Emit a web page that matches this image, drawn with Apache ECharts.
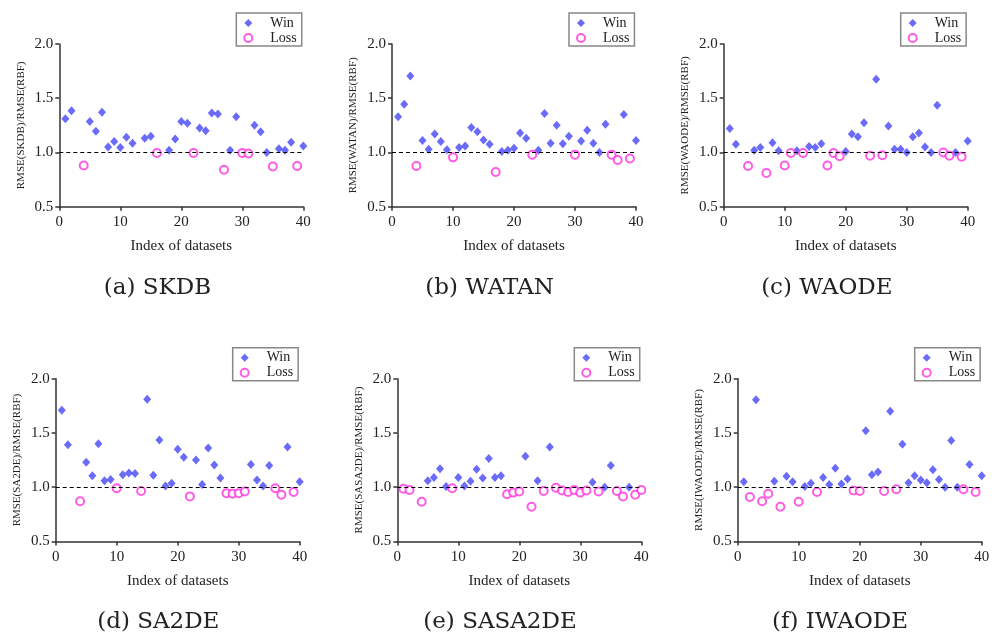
<!DOCTYPE html>
<html>
<head>
<meta charset="utf-8">
<script src="https://cdn.jsdelivr.net/npm/echarts@6/dist/echarts.min.js"></script>
<style>
  html, body { margin: 0; padding: 0; background: #fff; }
  #chart { width: 996px; height: 638px; }
</style>
</head>
<body>
<div id="chart"></div>
<script>
// ---- data ----
const xTicks = [0, 10, 20, 30, 40];
const yTicks = [0.5, 1.0, 1.5, 2.0];

const skdbWinIdx = [1, 2, 5, 6, 7, 8, 9, 10, 11, 12, 14, 15, 18, 19, 20, 21, 23, 24, 25, 26, 28, 29, 32, 33, 34, 36, 37, 38, 40];
const skdbWinVal = [1.31, 1.385, 1.285, 1.195, 1.37, 1.05, 1.10, 1.045, 1.14, 1.085, 1.13, 1.15, 1.02, 1.125, 1.285, 1.27, 1.225, 1.20, 1.365, 1.355, 1.02, 1.33, 1.25, 1.19, 1.0, 1.035, 1.02, 1.095, 1.06];
const skdbLossIdx = [4, 16, 22, 27, 30, 31, 35, 39];
const skdbLossVal = [0.88, 0.995, 0.995, 0.84, 0.995, 0.99, 0.87, 0.875];

const watanWinIdx = [1, 2, 3, 5, 6, 7, 8, 9, 11, 12, 13, 14, 15, 16, 18, 19, 20, 21, 22, 24, 25, 26, 27, 28, 29, 31, 32, 33, 34, 35, 38, 40];
const watanWinVal = [1.33, 1.445, 1.705, 1.11, 1.03, 1.17, 1.10, 1.025, 1.045, 1.06, 1.23, 1.19, 1.115, 1.075, 1.01, 1.02, 1.04, 1.18, 1.13, 1.02, 1.36, 1.085, 1.25, 1.08, 1.15, 1.105, 1.205, 1.085, 1.0, 1.26, 1.35, 1.11];
const watanLossIdx = [4, 10, 17, 23, 30, 36, 37, 39];
const watanLossVal = [0.875, 0.955, 0.82, 0.98, 0.98, 0.98, 0.93, 0.945];

const waodeWinIdx = [1, 2, 5, 6, 8, 9, 12, 14, 15, 16, 20, 21, 22, 23, 25, 27, 28, 29, 30, 31, 32, 33, 34, 35, 38, 40];
const waodeWinVal = [1.22, 1.075, 1.02, 1.045, 1.09, 1.015, 1.015, 1.055, 1.045, 1.08, 1.01, 1.17, 1.145, 1.275, 1.675, 1.245, 1.03, 1.03, 1.0, 1.145, 1.18, 1.05, 1.0, 1.435, 1.0, 1.105];
const waodeLossIdx = [4, 7, 10, 11, 13, 17, 18, 19, 24, 26, 36, 37, 39];
const waodeLossVal = [0.875, 0.81, 0.88, 0.995, 0.995, 0.88, 0.995, 0.965, 0.97, 0.975, 1.0, 0.97, 0.96];

const sa2deWinIdx = [1, 2, 5, 6, 7, 8, 9, 11, 12, 13, 15, 16, 17, 18, 19, 20, 21, 23, 24, 25, 26, 27, 32, 33, 34, 35, 38, 40];
const sa2deWinVal = [1.71, 1.39, 1.23, 1.105, 1.40, 1.06, 1.07, 1.115, 1.13, 1.125, 1.81, 1.11, 1.435, 1.01, 1.035, 1.35, 1.275, 1.25, 1.025, 1.36, 1.205, 1.085, 1.21, 1.065, 1.01, 1.20, 1.37, 1.05];
const sa2deLossIdx = [4, 10, 14, 22, 28, 29, 30, 31, 36, 37, 39];
const sa2deLossVal = [0.87, 0.99, 0.965, 0.915, 0.945, 0.94, 0.945, 0.96, 0.99, 0.93, 0.955];

const sasa2deWinIdx = [5, 6, 7, 8, 10, 11, 12, 13, 14, 15, 16, 17, 21, 23, 25, 32, 34, 35, 38];
const sasa2deWinVal = [1.06, 1.09, 1.17, 1.005, 1.09, 1.01, 1.055, 1.165, 1.085, 1.265, 1.09, 1.105, 1.285, 1.06, 1.37, 1.045, 1.0, 1.20, 1.0];
const sasa2deLossIdx = [1, 2, 4, 9, 18, 19, 20, 22, 24, 26, 27, 28, 29, 30, 31, 33, 36, 37, 39, 40];
const sasa2deLossVal = [0.985, 0.975, 0.865, 0.99, 0.935, 0.95, 0.96, 0.82, 0.965, 0.995, 0.97, 0.955, 0.975, 0.95, 0.97, 0.96, 0.965, 0.915, 0.93, 0.975];

const iwaodeWinIdx = [1, 3, 6, 8, 9, 11, 12, 14, 15, 16, 17, 18, 21, 22, 23, 25, 27, 28, 29, 30, 31, 32, 33, 34, 35, 36, 38, 40];
const iwaodeWinVal = [1.05, 1.805, 1.055, 1.10, 1.05, 1.005, 1.035, 1.09, 1.025, 1.175, 1.03, 1.075, 1.52, 1.115, 1.14, 1.70, 1.395, 1.04, 1.105, 1.065, 1.04, 1.16, 1.07, 1.0, 1.43, 1.0, 1.21, 1.105];
const iwaodeLossIdx = [2, 4, 5, 7, 10, 13, 19, 20, 24, 26, 37, 39];
const iwaodeLossVal = [0.91, 0.87, 0.94, 0.82, 0.865, 0.955, 0.97, 0.965, 0.965, 0.98, 0.98, 0.955];

const methods = ['SKDB', 'WATAN', 'WAODE', 'SA2DE', 'SASA2DE', 'IWAODE'];
const captions = ['(a) SKDB', '(b) WATAN', '(c) WAODE', '(d) SA2DE', '(e) SASA2DE', '(f) IWAODE'];
const panelData = [
  [skdbWinIdx, skdbWinVal, skdbLossIdx, skdbLossVal],
  [watanWinIdx, watanWinVal, watanLossIdx, watanLossVal],
  [waodeWinIdx, waodeWinVal, waodeLossIdx, waodeLossVal],
  [sa2deWinIdx, sa2deWinVal, sa2deLossIdx, sa2deLossVal],
  [sasa2deWinIdx, sasa2deWinVal, sasa2deLossIdx, sasa2deLossVal],
  [iwaodeWinIdx, iwaodeWinVal, iwaodeLossIdx, iwaodeLossVal]
];

// ---- layout ----
const PW = 244, PH = 162.7;
const layout = [
  { left: 59.3, top: 44, cx: 157.5, cy: 288 },
  { left: 392, top: 44, cx: 489.6, cy: 288 },
  { left: 723.7, top: 44, cx: 826.8, cy: 288 },
  { left: 55.7, top: 378.7, cx: 158.3, cy: 621.7 },
  { left: 397.3, top: 378.7, cx: 500, cy: 621.7 },
  { left: 737.7, top: 378.7, cx: 840, cy: 621.7 }
];

const SERIF = '"Liberation Serif", "Times New Roman", serif';
const AXIS_COLOR = '#333';
const WIN_COLOR = '#4646f8';
const LOSS_COLOR = '#ff33dd';

const zip = (xs, ys) => xs.map((x, i) => [x, ys[i]]);

const grid = [], xAxis = [], yAxis = [], series = [], legend = [], graphic = [];

layout.forEach((p, i) => {
  const [wIdx, wVal, lIdx, lVal] = panelData[i];
  grid.push({ left: p.left, top: p.top, width: PW, height: PH });

  xAxis.push({
    gridIndex: i,
    type: 'value',
    min: xTicks[0],
    max: xTicks[xTicks.length - 1],
    interval: 10,
    name: 'Index of datasets',
    nameLocation: 'middle',
    nameGap: 32,
    nameTextStyle: { fontFamily: SERIF, fontSize: 15, color: '#222' },
    axisLine: { show: true, lineStyle: { color: AXIS_COLOR, width: 1.5 } },
    axisTick: { show: true, length: 4, lineStyle: { color: AXIS_COLOR, width: 1.5 } },
    axisLabel: { fontFamily: SERIF, fontSize: 15, color: '#222', margin: 8 },
    splitLine: { show: false }
  });

  yAxis.push({
    gridIndex: i,
    type: 'value',
    min: yTicks[0],
    max: yTicks[yTicks.length - 1],
    interval: 0.5,
    name: 'RMSE(' + methods[i] + ')/RMSE(RBF)',
    nameLocation: 'middle',
    nameGap: 33,
    nameRotate: 90,
    nameTextStyle: { fontFamily: SERIF, fontSize: 11, color: '#222' },
    axisLine: { show: true, lineStyle: { color: AXIS_COLOR, width: 1.5 } },
    axisTick: { show: true, length: 4, lineStyle: { color: AXIS_COLOR, width: 1.5 } },
    axisLabel: {
      fontFamily: SERIF, fontSize: 15, color: '#222', margin: 6,
      formatter: v => v.toFixed(1)
    },
    splitLine: { show: false }
  });

  series.push({
    name: 'Win',
    type: 'scatter',
    xAxisIndex: i,
    yAxisIndex: i,
    symbol: 'diamond',
    symbolSize: [8, 9],
    itemStyle: { color: WIN_COLOR },
    data: zip(wIdx, wVal),
    z: 3,
    markLine: {
      silent: true,
      symbol: ['none', 'none'],
      label: { show: false },
      lineStyle: { type: [4, 3], color: '#000', width: 1.2 },
      data: [{ yAxis: 1.0 }]
    }
  });
  series.push({
    name: 'Loss',
    type: 'scatter',
    xAxisIndex: i,
    yAxisIndex: i,
    symbol: 'circle',
    symbolSize: 8,
    itemStyle: { color: '#fff', borderColor: LOSS_COLOR, borderWidth: 2 },
    data: zip(lIdx, lVal),
    z: 3
  });

  legend.push({
    data: ['Win', 'Loss'],
    orient: 'vertical',
    left: p.left + PW - 67,
    top: p.top - 31,
    padding: [3, 5, 1, 7],
    itemGap: 1,
    itemWidth: 8,
    itemHeight: 8,
    borderColor: '#888',
    borderWidth: 1.5,
    selectedMode: false,
    textStyle: { fontFamily: SERIF, fontSize: 14, color: '#222', lineHeight: 14, padding: [0, 0, 0, 13] }
  });

  graphic.push({
    type: 'text',
    x: p.cx,
    y: p.cy,
    style: {
      text: captions[i],
      font: '23px "DejaVu Serif", serif',
      fill: '#222',
      textAlign: 'center',
      textVerticalAlign: 'middle'
    }
  });
});

const chart = echarts.init(document.getElementById('chart'));
chart.setOption({
  animation: false,
  backgroundColor: '#fff',
  grid, xAxis, yAxis, series, legend, graphic
});
</script>
</body>
</html>
